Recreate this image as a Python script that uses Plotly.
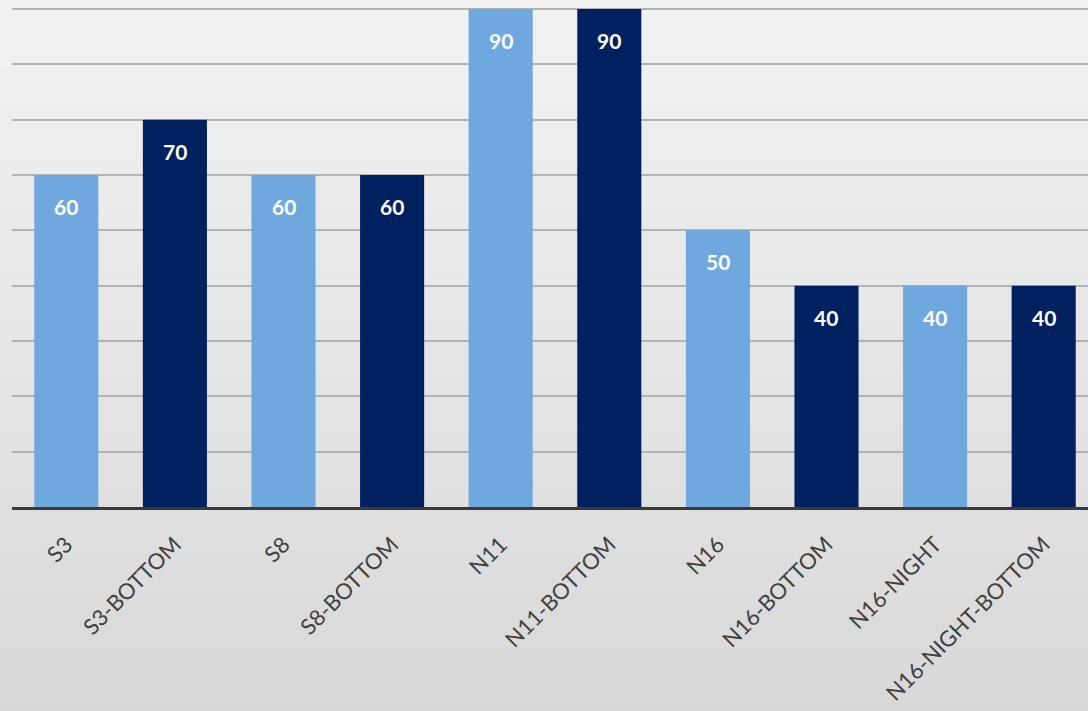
import plotly.graph_objects as go

categories = ["S3", "S3-BOTTOM", "S8", "S8-BOTTOM", "N11", "N11-BOTTOM",
              "N16", "N16-BOTTOM", "N16-NIGHT", "N16-NIGHT-BOTTOM"]
values = [60, 70, 60, 60, 90, 90, 50, 40, 40, 40]
bar_colors = ["#6FA8DF", "#002060"] * 5

fig = go.Figure()

# background vertical gradient bands (paper coords span -0.41 .. 1.0)
n = 40
top = (242, 242, 242)
bot = (216, 216, 216)
y_lo, y_hi = -0.42, 1.01
h = (y_hi - y_lo) / n
for i in range(n):
    t = i / (n - 1)
    c = tuple(int(round(top[k] + (bot[k] - top[k]) * t)) for k in range(3))
    fig.add_shape(type="rect", xref="paper", yref="paper",
                  x0=-0.02, x1=1.02,
                  y0=y_hi - (i + 1) * h - 0.002, y1=y_hi - i * h,
                  fillcolor="rgb(%d,%d,%d)" % c, line_width=0, layer="below")

fig.add_trace(go.Bar(
    x=categories, y=values, marker_color=bar_colors, marker_line_width=0,
    showlegend=False, hoverinfo="skip"))

for c, v in zip(categories, values):
    fig.add_annotation(x=c, y=v, text="<b>%d</b>" % v, showarrow=False,
                       yanchor="top", yshift=-17,
                       font=dict(family="Lato", size=21, color="white"))

fig.update_layout(
    width=1088, height=711,
    margin=dict(l=12, r=0, t=0, b=204),
    paper_bgcolor="#dcdcdc", plot_bgcolor="rgba(0,0,0,0)",
    bargap=0.41,
    xaxis=dict(range=[-0.5, 9.408], showgrid=False, tickangle=-45,
               automargin=False,
               tickfont=dict(family="Lato", size=22, color="#404040"),
               showline=True, linecolor="#3a3a3a", linewidth=3,
               ticks="outside", ticklen=13, tickcolor="rgba(0,0,0,0)"),
    yaxis=dict(range=[0, 91.63], dtick=10, showgrid=True, gridcolor="#b3b3b3",
               gridwidth=1.5, showticklabels=False, zeroline=False,
               automargin=False),
)

fig.write_html("out.html")
